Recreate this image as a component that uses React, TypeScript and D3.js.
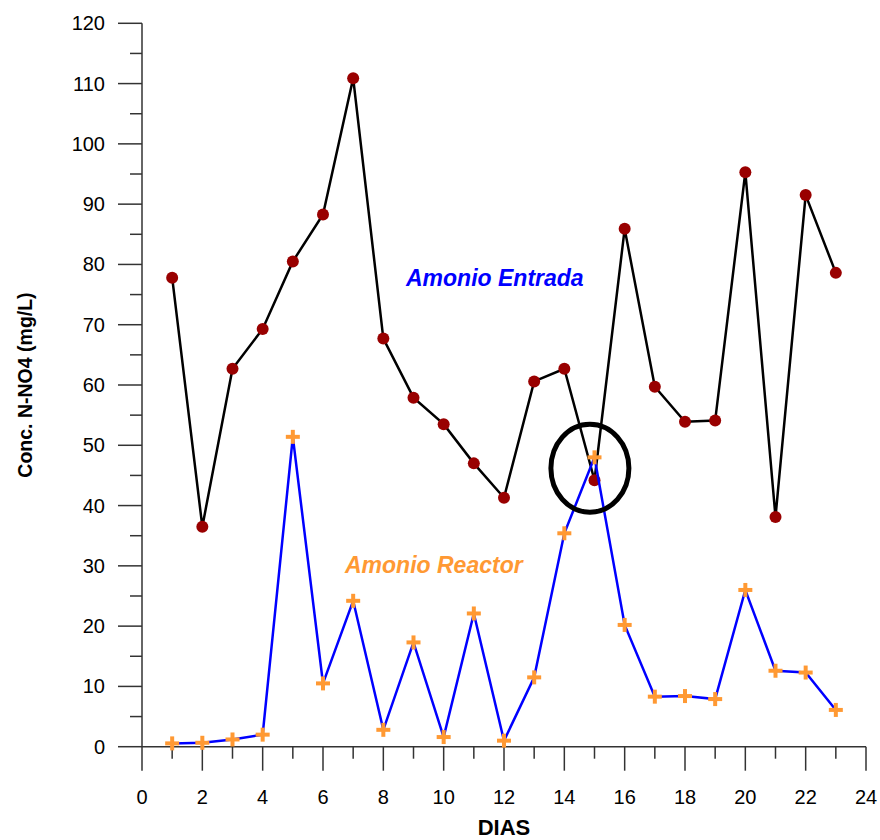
import React from "react";
import * as d3 from "d3";

const days = [1, 2, 3, 4, 5, 6, 7, 8, 9, 10, 11, 12, 13, 14, 15, 16, 17, 18, 19, 20, 21, 22, 23];
const entrada = [77.8, 36.5, 62.7, 69.3, 80.5, 88.3, 110.9, 67.7, 57.9, 53.5, 47.0, 41.3, 60.6, 62.7, 44.2, 85.9, 59.7, 53.9, 54.1, 95.3, 38.1, 91.5, 78.6];
const reactor = [0.55, 0.65, 1.2, 2.0, 51.4, 10.5, 24.2, 2.8, 17.3, 1.6, 22.1, 1.0, 11.5, 35.4, 48.0, 20.2, 8.3, 8.4, 7.9, 26.0, 12.6, 12.3, 6.1];
const xMajorTicks = [0, 2, 4, 6, 8, 10, 12, 14, 16, 18, 20, 22, 24];
const xMinorTicks = [1, 3, 5, 7, 9, 11, 13, 15, 17, 19, 21, 23];
const yMajorTicks = [0, 10, 20, 30, 40, 50, 60, 70, 80, 90, 100, 110, 120];
const yMinorTicks = [5, 15, 25, 35, 45, 55, 65, 75, 85, 95, 105, 115];
const xTitle = "DIAS";
const yTitle = "Conc. N-NO4 (mg/L)";
const labelEntrada = "Amonio Entrada";
const labelReactor = "Amonio Reactor";
const highlightDay = 15;
const highlightValue = 46.2;

export default function App() {
  const W = 880, H = 840;
  const left = 142, right = 866, top = 23.3, bottom = 746.7;
  const x = d3.scaleLinear().domain([0, 24]).range([left, right]);
  const y = d3.scaleLinear().domain([0, 120]).range([bottom, top]);
  const line = d3.line<number>().x((_, i) => x(days[i])).y((d) => y(d));
  const font = "Arial, 'Liberation Sans', Helvetica, sans-serif";
  const axisColor = "#333";
  const plusSize = 7;

  return (
    <svg width={W} height={H} style={{ position: "absolute", left: 0, top: 0, background: "#fff" }} fontFamily={font}>
      {/* axes */}
      <line x1={left} x2={left} y1={top} y2={bottom} stroke={axisColor} strokeWidth={1.5} />
      <line x1={left} x2={right} y1={bottom} y2={bottom} stroke={axisColor} strokeWidth={1.5} />
      {yMajorTicks.map((t) => (
        <g key={"ym" + t}>
          <line x1={left - 24} x2={left} y1={y(t)} y2={y(t)} stroke={axisColor} strokeWidth={1.5} />
          <text x={105} y={y(t)} dy="0.35em" textAnchor="end" fontSize={20} fill="#000">{t}</text>
        </g>
      ))}
      {yMinorTicks.map((t) => (
        <line key={"yn" + t} x1={left - 12} x2={left} y1={y(t)} y2={y(t)} stroke={axisColor} strokeWidth={1.5} />
      ))}
      {xMajorTicks.map((t) => (
        <g key={"xm" + t}>
          <line x1={x(t)} x2={x(t)} y1={bottom} y2={bottom + 24} stroke={axisColor} strokeWidth={1.5} />
          <text x={x(t)} y={804} textAnchor="middle" fontSize={20} fill="#000">{t}</text>
        </g>
      ))}
      {xMinorTicks.map((t) => (
        <line key={"xn" + t} x1={x(t)} x2={x(t)} y1={bottom} y2={bottom + 12} stroke={axisColor} strokeWidth={1.5} />
      ))}
      <text x={(left + right) / 2} y={835} textAnchor="middle" fontSize={22} fontWeight="bold" fill="#000">{xTitle}</text>
      <text transform={`translate(32, ${(top + bottom) / 2}) rotate(-90)`} textAnchor="middle" fontSize={19.5} fontWeight="bold" fill="#000">{yTitle}</text>

      {/* Entrada series */}
      <path d={line(entrada) || ""} fill="none" stroke="#000" strokeWidth={2.5} />
      {entrada.map((v, i) => (
        <circle key={"e" + i} cx={x(days[i])} cy={y(v)} r={6} fill="#990000" />
      ))}

      {/* Reactor series */}
      <path d={line(reactor) || ""} fill="none" stroke="#0000ff" strokeWidth={2.5} />
      {reactor.map((v, i) => (
        <g key={"r" + i} stroke="#ff9933" strokeWidth={4}>
          <line x1={x(days[i]) - plusSize} x2={x(days[i]) + plusSize} y1={y(v)} y2={y(v)} />
          <line x1={x(days[i])} x2={x(days[i])} y1={y(v) - plusSize} y2={y(v) + plusSize} />
        </g>
      ))}

      {/* highlight ellipse */}
      <ellipse cx={x(highlightDay) - 4.6} cy={y(highlightValue)} rx={39} ry={44} fill="none" stroke="#000" strokeWidth={5} />

      {/* labels */}
      <text x={406} y={286} fontSize={23} fontWeight="bold" fontStyle="italic" fill="#0000ff">{labelEntrada}</text>
      <text x={345} y={572.5} fontSize={23} fontWeight="bold" fontStyle="italic" fill="#ff9933">{labelReactor}</text>
    </svg>
  );
}
